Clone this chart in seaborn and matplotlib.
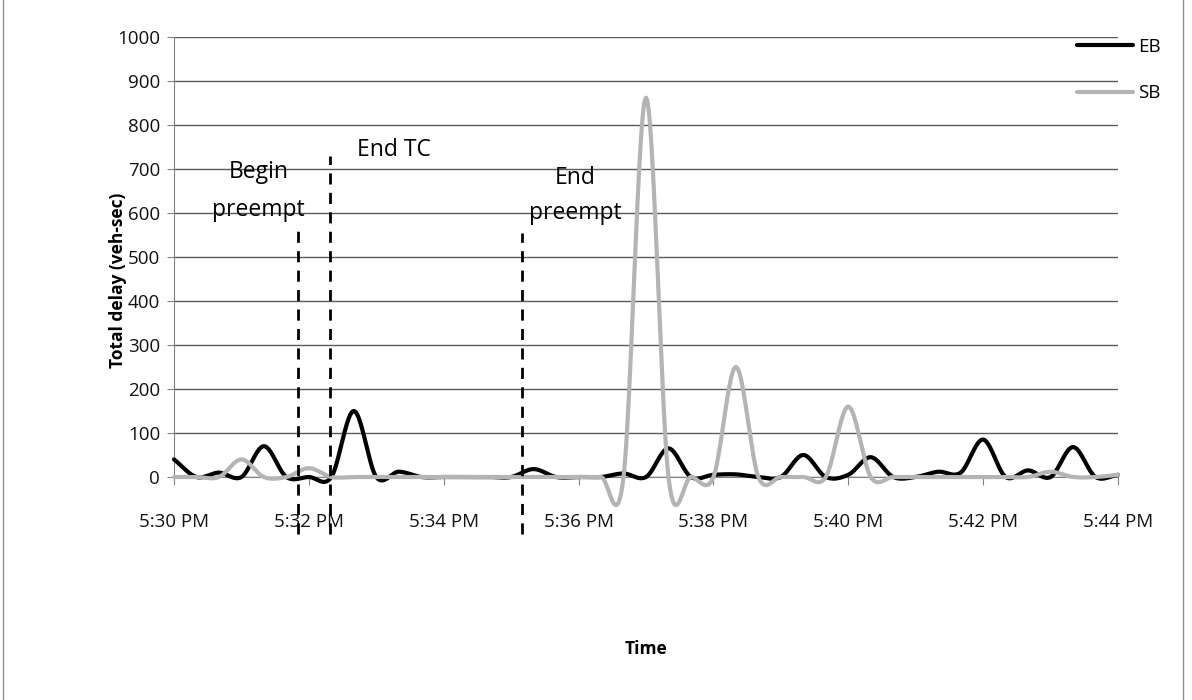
import numpy as np
import pandas as pd
import matplotlib
matplotlib.use("Agg")
import matplotlib.pyplot as plt
import seaborn as sns

# Total delay sampled every 20 s, 5:30 PM to 5:44 PM
times = pd.date_range("2010-01-01 17:30:00", "2010-01-01 17:44:00", freq="20s")
eb = [40, 0, 10, 0, 70, 0, 0, 0, 150, 0, 12, 0, 0, 0, 0, 0, 18, 0, 0, 0, 8, 0,
      65, 0, 5, 6, 0, 0, 50, 0, 5, 45, 0, 0, 12, 10, 85, 0, 15, 0, 68, 0, 5]
sb = [0, 0, 0, 40, 0, 0, 20, 0, 0, 0, 0, 0, 0, 0, 0, 0, 0, 0, 0, 0, 0, 862,
      0, 0, 0, 250, 0, 0, 0, 0, 160, 0, 0, 0, 0, 0, 0, 0, 0, 12, 0, 0, 5]
xtick_labels = ["5:30 PM", "5:32 PM", "5:34 PM", "5:36 PM", "5:38 PM",
                "5:40 PM", "5:42 PM", "5:44 PM"]

# event markers (time, top of dashed line)
event_times = pd.to_datetime(["2010-01-01 17:31:50", "2010-01-01 17:32:19",
                              "2010-01-01 17:35:10"])
event_tops = [560, 730, 555]

start = times[0]
minutes = (times - start).total_seconds() / 60.0
event_min = (event_times - start).total_seconds() / 60.0


def smooth(x, y, n=24):
    # Excel-like smoothed line (Catmull-Rom through the points)
    x = np.asarray(x, float)
    y = np.asarray(y, float)
    yp = np.concatenate([[2 * y[0] - y[1]], y, [2 * y[-1] - y[-2]]])
    xs, ys = [], []
    t = np.linspace(0, 1, n)
    h00 = 2 * t**3 - 3 * t**2 + 1
    h10 = t**3 - 2 * t**2 + t
    h01 = -2 * t**3 + 3 * t**2
    h11 = t**3 - t**2
    for i in range(len(x) - 1):
        m0 = (yp[i + 2] - yp[i]) / 2
        m1 = (yp[i + 3] - yp[i + 1]) / 2
        ys.append(h00 * y[i] + h10 * m0 + h01 * y[i + 1] + h11 * m1)
        xs.append(x[i] + t * (x[i + 1] - x[i]))
    return np.concatenate(xs), np.concatenate(ys)


frames = []
for name, vals in [("EB", eb), ("SB", sb)]:
    sx, sy = smooth(minutes, vals)
    frames.append(pd.DataFrame({"t": sx, "delay": sy, "dir": name}))
df = pd.concat(frames, ignore_index=True)

sns.set_style("white")
plt.rcParams['font.family'] = ['Open Sans', 'DejaVu Sans']
plt.rcParams['text.color'] = 'black'
plt.rcParams['axes.labelcolor'] = 'black'

fig = plt.figure(figsize=(11.92, 7), dpi=100)
ax = fig.add_axes([174 / 1192, 1 - 477 / 700, 944 / 1192, 440 / 700])

sns.lineplot(data=df, x="t", y="delay", hue="dir", estimator=None, sort=False,
             palette={"EB": "black", "SB": "#b4b4b4"}, linewidth=3,
             clip_on=False, ax=ax, zorder=3)

ax.set_xlim(0, 14)
ax.set_ylim(0, 1000)
ax.set_yticks(range(0, 1001, 100))
ax.set_xticks(range(0, 15, 2))
ax.set_xticklabels(xtick_labels)
ax.yaxis.grid(True, color="#5a5a5a", linewidth=1)
ax.xaxis.grid(False)
for s in ["top", "right"]:
    ax.spines[s].set_visible(False)
ax.spines["left"].set_color("#808080")
ax.spines["bottom"].set_color("#808080")
ax.tick_params(axis="y", labelsize=13.5, length=5, color="#808080", direction="out",
               left=True, pad=5, labelcolor="#111111")
ax.tick_params(axis="x", labelsize=13.5, length=6, color="#808080", direction="out",
               bottom=True, pad=20, labelcolor="#111111")

ax.set_xlabel("Time", fontsize=12.5, fontweight="bold")
ax.set_ylabel("Total delay (veh-sec)", fontsize=12.5, fontweight="bold")
ax.xaxis.set_label_coords(0.5, (477 - 640) / 440)
ax.yaxis.set_label_coords((127 - 174) / 944, (477 - 280) / 440)

ax.vlines(event_min, -130, event_tops, colors="black", linewidth=2,
          linestyles=(0, (4, 3)), clip_on=False, zorder=4)

ax.text(1.25, 693, "Begin", fontsize=16.5, ha="center", va="center")
ax.text(1.25, 607, "preempt", fontsize=16.5, ha="center", va="center")
ax.text(3.26, 743, "End TC", fontsize=16.5, ha="center", va="center")
ax.text(5.95, 680, "End", fontsize=16.5, ha="center", va="center")
ax.text(5.95, 600, "preempt", fontsize=16.5, ha="center", va="center")

handles, labels = ax.get_legend_handles_labels()
ax.legend(handles, labels, loc="upper left", bbox_to_anchor=(1077 / 1192, 1 - 38 / 700),
          bbox_transform=fig.transFigure, frameon=False, fontsize=13.5,
          handlelength=3.0, handletextpad=0.25, labelspacing=1.5, borderpad=0,
          borderaxespad=0)

fig.patches.append(plt.Rectangle((3 / 1192, -0.01), 1180 / 1192, 1.02,
                                 transform=fig.transFigure, fill=False,
                                 edgecolor="#909090", linewidth=1))

fig.savefig("out.png", dpi=100)
